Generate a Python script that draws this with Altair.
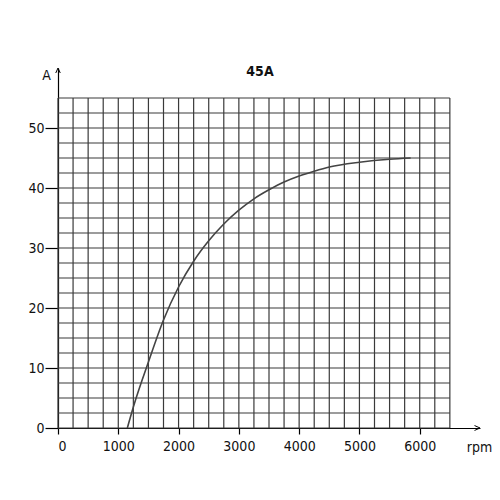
import altair as alt
import pandas as pd

# Curve: alternator output current (A) vs speed (rpm)
rpm = [1150, 1250, 1500, 1750, 2000, 2250, 2500, 2750, 3000, 3250, 3500, 3750,
       4000, 4250, 4500, 5000, 5500, 5850]
amps = [0, 3.5, 11, 18, 23.5, 27.8, 31.2, 34, 36.3, 38.2, 39.7, 41,
        42, 42.8, 43.5, 44.3, 44.8, 45]

x_ticks = [0, 1000, 2000, 3000, 4000, 5000, 6000]
y_ticks = [0, 10, 20, 30, 40, 50]
x_grid = list(range(0, 6501, 250))
y_grid = [i * 2.5 for i in range(0, 23)]
x_max, y_max = 6500, 55

FONT = "DejaVu Sans Condensed, Liberation Sans Narrow, Liberation Sans, Arial"
GRID = "#3a3a3a"

xs = alt.Scale(domain=[0, 7000], nice=False, zero=False)
ys = alt.Scale(domain=[0, 60], nice=False, zero=False)

curve_df = pd.DataFrame({"rpm": rpm, "A": amps})
vgrid = pd.DataFrame({"x": x_grid, "y0": 0, "y1": y_max})
hgrid = pd.DataFrame({"y": y_grid, "x0": 0, "x1": x_max})

xax = alt.Axis(values=x_ticks, format="d", grid=False, domainColor="black", domainWidth=1.2,
               tickColor="black", tickSize=6, tickWidth=1.2, labelFontSize=14,
               labelFont=FONT, labelColor="#111", labelPadding=5,
               title="rpm", titleFont=FONT, titleFontSize=14, titleFontWeight="normal",
               titleX=421, titleY=19, titleBaseline="middle", titleAlign="center",
               titleColor="#111")
yax = alt.Axis(values=y_ticks, format="d", grid=False, domainColor="black", domainWidth=1.2,
               tickColor="black", tickSize=13, tickWidth=1.2, labelFontSize=14,
               labelFont=FONT, labelColor="#111", labelPadding=1, labelBaseline="middle",
               title="A", titleFont=FONT, titleFontSize=14, titleFontWeight="normal",
               titleAngle=0, titleX=-12, titleY=7, titleBaseline="middle",
               titleAlign="center", titleColor="#111")

vlines = alt.Chart(vgrid).mark_rule(color=GRID, strokeWidth=1.2).encode(
    x=alt.X("x:Q", scale=xs, axis=xax),
    y=alt.Y("y0:Q", scale=ys, axis=yax),
    y2="y1:Q",
)
hlines = alt.Chart(hgrid).mark_rule(color=GRID, strokeWidth=1.2).encode(
    y=alt.Y("y:Q", scale=ys),
    x=alt.X("x0:Q", scale=xs),
    x2="x1:Q",
)
line = alt.Chart(curve_df).mark_line(color="#444", strokeWidth=1.6,
                                     interpolate="monotone").encode(
    x=alt.X("rpm:Q", scale=xs),
    y=alt.Y("A:Q", scale=ys),
)
xarrow = alt.Chart(pd.DataFrame({"x": [7000], "y": [0]})).mark_point(
    shape="M -1 -0.45 L 0 0 L -1 0.45", filled=False, stroke="black",
    strokeWidth=1, size=120, opacity=1, clip=False).encode(
    x=alt.X("x:Q", scale=xs), y=alt.Y("y:Q", scale=ys))
yarrow = alt.Chart(pd.DataFrame({"x": [0], "y": [60]})).mark_point(
    shape="M -0.45 1 L 0 0 L 0.45 1", filled=False, stroke="black",
    strokeWidth=1, size=100, opacity=1, clip=False).encode(
    x=alt.X("x:Q", scale=xs), y=alt.Y("y:Q", scale=ys))

chart = alt.layer(vlines, hlines, line, xarrow, yarrow).properties(
    width=422, height=360,
    background="white",
    title=alt.TitleParams("45A", anchor="middle", font=FONT, fontSize=14,
                          fontWeight="bold", color="#111", dx=-9, dy=17),
    autosize=alt.AutoSizeParams(type="none"),
    padding={"left": 50, "top": 60, "right": 12, "bottom": 40},
).configure_view(strokeWidth=0, stroke=None)

chart.save("out.html", embed_options={"renderer": "svg", "actions": False})
